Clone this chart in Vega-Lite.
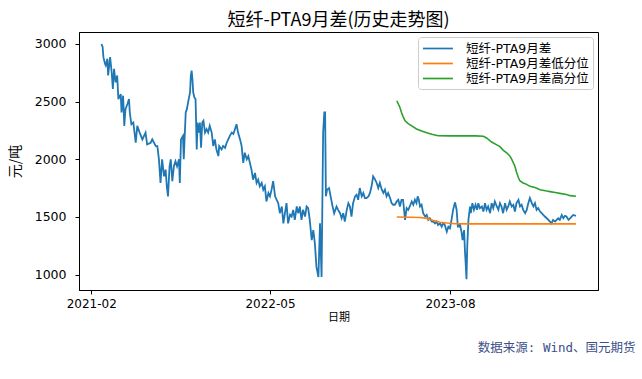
{
  "$schema": "https://vega.github.io/schema/vega-lite/v6.json",
  "width": 519,
  "height": 258,
  "autosize": {"type": "none"},
  "padding": {"left": 79, "top": 32, "right": 44, "bottom": 89},
  "background": "white",
  "title": {"text": "短纤-PTA9月差(历史走势图)", "font": "Noto Sans CJK SC", "fontSize": 18, "fontWeight": "normal", "color": "#000000", "anchor": "middle", "offset": 2},
  "config": {
    "view": {"stroke": "#000000", "strokeWidth": 1},
    "axis": {"grid": false, "domainColor": "#000000", "tickColor": "#000000", "labelColor": "#000000", "titleColor": "#000000"}
  },
  "datasets": {
    "blue": [
      {"date": "2021-02-27", "value": 3000}, {"date": "2021-03-02", "value": 2975}, {"date": "2021-03-04", "value": 2886}, {"date": "2021-03-08", "value": 2830}, {"date": "2021-03-10", "value": 2814}, {"date": "2021-03-14", "value": 2872}, {"date": "2021-03-16", "value": 2727}, {"date": "2021-03-21", "value": 2886}, {"date": "2021-03-25", "value": 2755}, {"date": "2021-03-28", "value": 2610}, {"date": "2021-03-31", "value": 2785}, {"date": "2021-04-04", "value": 2668}, {"date": "2021-04-08", "value": 2727}, {"date": "2021-04-11", "value": 2522}, {"date": "2021-04-17", "value": 2566}, {"date": "2021-04-19", "value": 2406}, {"date": "2021-04-23", "value": 2552}, {"date": "2021-04-26", "value": 2290}, {"date": "2021-04-29", "value": 2435}, {"date": "2021-05-04", "value": 2480}, {"date": "2021-05-08", "value": 2522}, {"date": "2021-05-10", "value": 2406}, {"date": "2021-05-14", "value": 2304}, {"date": "2021-05-19", "value": 2319}, {"date": "2021-05-25", "value": 2144}, {"date": "2021-05-29", "value": 2290}, {"date": "2021-06-04", "value": 2232}, {"date": "2021-06-11", "value": 2173}, {"date": "2021-06-19", "value": 2232}, {"date": "2021-06-23", "value": 2130}, {"date": "2021-07-02", "value": 2144}, {"date": "2021-07-06", "value": 2173}, {"date": "2021-07-15", "value": 2115}, {"date": "2021-07-19", "value": 2115}, {"date": "2021-07-23", "value": 2000}, {"date": "2021-07-27", "value": 1795}, {"date": "2021-07-31", "value": 2000}, {"date": "2021-08-05", "value": 1853}, {"date": "2021-08-09", "value": 1911}, {"date": "2021-08-12", "value": 1766}, {"date": "2021-08-15", "value": 1679}, {"date": "2021-08-19", "value": 1940}, {"date": "2021-08-22", "value": 2000}, {"date": "2021-08-26", "value": 1810}, {"date": "2021-08-30", "value": 1940}, {"date": "2021-09-03", "value": 1984}, {"date": "2021-09-07", "value": 1940}, {"date": "2021-09-12", "value": 2000}, {"date": "2021-09-14", "value": 1795}, {"date": "2021-09-17", "value": 2173}, {"date": "2021-09-22", "value": 2203}, {"date": "2021-09-24", "value": 2000}, {"date": "2021-09-29", "value": 2406}, {"date": "2021-10-02", "value": 2435}, {"date": "2021-10-05", "value": 2493}, {"date": "2021-10-10", "value": 2581}, {"date": "2021-10-12", "value": 2727}, {"date": "2021-10-14", "value": 2770}, {"date": "2021-10-16", "value": 2697}, {"date": "2021-10-18", "value": 2581}, {"date": "2021-10-21", "value": 2537}, {"date": "2021-10-24", "value": 2522}, {"date": "2021-10-27", "value": 2085}, {"date": "2021-10-29", "value": 2319}, {"date": "2021-11-02", "value": 2232}, {"date": "2021-11-04", "value": 2319}, {"date": "2021-11-07", "value": 2100}, {"date": "2021-11-10", "value": 2319}, {"date": "2021-11-13", "value": 2334}, {"date": "2021-11-17", "value": 2232}, {"date": "2021-11-21", "value": 2261}, {"date": "2021-11-25", "value": 2232}, {"date": "2021-11-29", "value": 2290}, {"date": "2021-12-04", "value": 2232}, {"date": "2021-12-08", "value": 2115}, {"date": "2021-12-12", "value": 2173}, {"date": "2021-12-16", "value": 2085}, {"date": "2021-12-21", "value": 2028}, {"date": "2021-12-23", "value": 2115}, {"date": "2021-12-29", "value": 2085}, {"date": "2022-01-02", "value": 2115}, {"date": "2022-01-07", "value": 2100}, {"date": "2022-01-11", "value": 2144}, {"date": "2022-01-15", "value": 2173}, {"date": "2022-01-19", "value": 2203}, {"date": "2022-01-24", "value": 2232}, {"date": "2022-01-28", "value": 2220}, {"date": "2022-02-01", "value": 2261}, {"date": "2022-02-05", "value": 2304}, {"date": "2022-02-09", "value": 2232}, {"date": "2022-02-14", "value": 2173}, {"date": "2022-02-18", "value": 2115}, {"date": "2022-02-22", "value": 1969}, {"date": "2022-02-26", "value": 2057}, {"date": "2022-03-03", "value": 2000}, {"date": "2022-03-07", "value": 2028}, {"date": "2022-03-11", "value": 1969}, {"date": "2022-03-15", "value": 1911}, {"date": "2022-03-19", "value": 1824}, {"date": "2022-03-24", "value": 1882}, {"date": "2022-03-28", "value": 1795}, {"date": "2022-04-01", "value": 1824}, {"date": "2022-04-05", "value": 1766}, {"date": "2022-04-10", "value": 1795}, {"date": "2022-04-14", "value": 1737}, {"date": "2022-04-18", "value": 1766}, {"date": "2022-04-22", "value": 1635}, {"date": "2022-04-27", "value": 1708}, {"date": "2022-05-01", "value": 1679}, {"date": "2022-05-05", "value": 1737}, {"date": "2022-05-09", "value": 1810}, {"date": "2022-05-14", "value": 1679}, {"date": "2022-05-18", "value": 1649}, {"date": "2022-05-22", "value": 1620}, {"date": "2022-05-26", "value": 1533}, {"date": "2022-05-31", "value": 1591}, {"date": "2022-06-04", "value": 1445}, {"date": "2022-06-08", "value": 1533}, {"date": "2022-06-12", "value": 1620}, {"date": "2022-06-16", "value": 1445}, {"date": "2022-06-21", "value": 1520}, {"date": "2022-06-25", "value": 1504}, {"date": "2022-06-29", "value": 1562}, {"date": "2022-07-03", "value": 1475}, {"date": "2022-07-08", "value": 1591}, {"date": "2022-07-12", "value": 1533}, {"date": "2022-07-16", "value": 1591}, {"date": "2022-07-20", "value": 1475}, {"date": "2022-07-24", "value": 1562}, {"date": "2022-07-29", "value": 1504}, {"date": "2022-08-02", "value": 1591}, {"date": "2022-08-06", "value": 1577}, {"date": "2022-08-10", "value": 1475}, {"date": "2022-08-15", "value": 1300}, {"date": "2022-08-19", "value": 1387}, {"date": "2022-08-23", "value": 1271}, {"date": "2022-08-27", "value": 1067}, {"date": "2022-09-01", "value": 980}, {"date": "2022-09-05", "value": 1445}, {"date": "2022-09-09", "value": 980}, {"date": "2022-09-13", "value": 2232}, {"date": "2022-09-16", "value": 2406}, {"date": "2022-09-18", "value": 2406}, {"date": "2022-09-20", "value": 1679}, {"date": "2022-09-23", "value": 1737}, {"date": "2022-09-28", "value": 1751}, {"date": "2022-10-02", "value": 1679}, {"date": "2022-10-07", "value": 1591}, {"date": "2022-10-11", "value": 1533}, {"date": "2022-10-17", "value": 1591}, {"date": "2022-10-21", "value": 1562}, {"date": "2022-10-26", "value": 1533}, {"date": "2022-10-30", "value": 1489}, {"date": "2022-11-03", "value": 1533}, {"date": "2022-11-07", "value": 1460}, {"date": "2022-11-12", "value": 1562}, {"date": "2022-11-16", "value": 1620}, {"date": "2022-11-20", "value": 1591}, {"date": "2022-11-24", "value": 1504}, {"date": "2022-11-28", "value": 1620}, {"date": "2022-12-03", "value": 1679}, {"date": "2022-12-07", "value": 1693}, {"date": "2022-12-11", "value": 1649}, {"date": "2022-12-15", "value": 1751}, {"date": "2022-12-20", "value": 1679}, {"date": "2022-12-24", "value": 1708}, {"date": "2022-12-28", "value": 1664}, {"date": "2023-01-01", "value": 1664}, {"date": "2023-01-06", "value": 1679}, {"date": "2023-01-10", "value": 1708}, {"date": "2023-01-14", "value": 1766}, {"date": "2023-01-18", "value": 1853}, {"date": "2023-01-23", "value": 1824}, {"date": "2023-01-27", "value": 1795}, {"date": "2023-01-31", "value": 1751}, {"date": "2023-02-04", "value": 1795}, {"date": "2023-02-09", "value": 1737}, {"date": "2023-02-13", "value": 1708}, {"date": "2023-02-17", "value": 1737}, {"date": "2023-02-21", "value": 1679}, {"date": "2023-02-25", "value": 1708}, {"date": "2023-03-02", "value": 1664}, {"date": "2023-03-06", "value": 1620}, {"date": "2023-03-10", "value": 1606}, {"date": "2023-03-14", "value": 1606}, {"date": "2023-03-19", "value": 1635}, {"date": "2023-03-23", "value": 1649}, {"date": "2023-03-27", "value": 1591}, {"date": "2023-03-31", "value": 1649}, {"date": "2023-04-04", "value": 1649}, {"date": "2023-04-09", "value": 1475}, {"date": "2023-04-13", "value": 1577}, {"date": "2023-04-17", "value": 1562}, {"date": "2023-04-21", "value": 1591}, {"date": "2023-04-26", "value": 1635}, {"date": "2023-04-30", "value": 1606}, {"date": "2023-05-04", "value": 1649}, {"date": "2023-05-08", "value": 1620}, {"date": "2023-05-11", "value": 1679}, {"date": "2023-05-14", "value": 1649}, {"date": "2023-05-17", "value": 1591}, {"date": "2023-05-21", "value": 1606}, {"date": "2023-05-25", "value": 1533}, {"date": "2023-05-30", "value": 1504}, {"date": "2023-06-03", "value": 1518}, {"date": "2023-06-07", "value": 1475}, {"date": "2023-06-11", "value": 1489}, {"date": "2023-06-16", "value": 1460}, {"date": "2023-06-20", "value": 1460}, {"date": "2023-06-24", "value": 1445}, {"date": "2023-06-28", "value": 1460}, {"date": "2023-07-02", "value": 1431}, {"date": "2023-07-07", "value": 1445}, {"date": "2023-07-11", "value": 1416}, {"date": "2023-07-15", "value": 1445}, {"date": "2023-07-19", "value": 1431}, {"date": "2023-07-24", "value": 1373}, {"date": "2023-07-28", "value": 1416}, {"date": "2023-08-01", "value": 1402}, {"date": "2023-08-05", "value": 1475}, {"date": "2023-08-09", "value": 1562}, {"date": "2023-08-14", "value": 1627}, {"date": "2023-08-18", "value": 1562}, {"date": "2023-08-21", "value": 1416}, {"date": "2023-08-24", "value": 1416}, {"date": "2023-08-26", "value": 1445}, {"date": "2023-08-31", "value": 1358}, {"date": "2023-09-02", "value": 1300}, {"date": "2023-09-06", "value": 1387}, {"date": "2023-09-08", "value": 1213}, {"date": "2023-09-10", "value": 1096}, {"date": "2023-09-12", "value": 960}, {"date": "2023-09-14", "value": 1250}, {"date": "2023-09-17", "value": 1475}, {"date": "2023-09-21", "value": 1591}, {"date": "2023-09-23", "value": 1533}, {"date": "2023-09-27", "value": 1620}, {"date": "2023-10-01", "value": 1562}, {"date": "2023-10-05", "value": 1606}, {"date": "2023-10-09", "value": 1562}, {"date": "2023-10-12", "value": 1620}, {"date": "2023-10-16", "value": 1577}, {"date": "2023-10-21", "value": 1591}, {"date": "2023-10-25", "value": 1547}, {"date": "2023-10-29", "value": 1620}, {"date": "2023-11-02", "value": 1562}, {"date": "2023-11-06", "value": 1591}, {"date": "2023-11-11", "value": 1533}, {"date": "2023-11-15", "value": 1620}, {"date": "2023-11-19", "value": 1577}, {"date": "2023-11-23", "value": 1635}, {"date": "2023-11-28", "value": 1591}, {"date": "2023-12-02", "value": 1562}, {"date": "2023-12-06", "value": 1620}, {"date": "2023-12-10", "value": 1591}, {"date": "2023-12-14", "value": 1533}, {"date": "2023-12-19", "value": 1620}, {"date": "2023-12-23", "value": 1562}, {"date": "2023-12-27", "value": 1591}, {"date": "2023-12-31", "value": 1635}, {"date": "2024-01-05", "value": 1591}, {"date": "2024-01-09", "value": 1606}, {"date": "2024-01-13", "value": 1547}, {"date": "2024-01-17", "value": 1620}, {"date": "2024-01-22", "value": 1649}, {"date": "2024-01-26", "value": 1591}, {"date": "2024-01-30", "value": 1606}, {"date": "2024-02-03", "value": 1562}, {"date": "2024-02-08", "value": 1533}, {"date": "2024-02-12", "value": 1562}, {"date": "2024-02-16", "value": 1620}, {"date": "2024-02-20", "value": 1664}, {"date": "2024-02-25", "value": 1620}, {"date": "2024-02-29", "value": 1591}, {"date": "2024-03-04", "value": 1620}, {"date": "2024-03-08", "value": 1562}, {"date": "2024-03-12", "value": 1577}, {"date": "2024-03-17", "value": 1547}, {"date": "2024-03-21", "value": 1533}, {"date": "2024-03-25", "value": 1518}, {"date": "2024-03-29", "value": 1504}, {"date": "2024-04-03", "value": 1489}, {"date": "2024-04-07", "value": 1475}, {"date": "2024-04-11", "value": 1460}, {"date": "2024-04-15", "value": 1445}, {"date": "2024-04-19", "value": 1475}, {"date": "2024-04-24", "value": 1460}, {"date": "2024-04-28", "value": 1475}, {"date": "2024-05-02", "value": 1489}, {"date": "2024-05-06", "value": 1475}, {"date": "2024-05-11", "value": 1518}, {"date": "2024-05-15", "value": 1489}, {"date": "2024-05-19", "value": 1510}, {"date": "2024-05-23", "value": 1504}, {"date": "2024-05-28", "value": 1475}, {"date": "2024-06-01", "value": 1489}, {"date": "2024-06-05", "value": 1504}, {"date": "2024-06-09", "value": 1518}, {"date": "2024-06-16", "value": 1510}
    ],
    "low": [
      {"date": "2023-03-19", "value": 1500}, {"date": "2023-04-21", "value": 1498}, {"date": "2023-05-17", "value": 1495}, {"date": "2023-06-03", "value": 1488}, {"date": "2023-06-20", "value": 1470}, {"date": "2023-07-07", "value": 1455}, {"date": "2023-07-24", "value": 1448}, {"date": "2023-08-14", "value": 1442}, {"date": "2023-09-12", "value": 1440}, {"date": "2024-06-16", "value": 1440}
    ],
    "high": [
      {"date": "2023-03-19", "value": 2508}, {"date": "2023-03-23", "value": 2480}, {"date": "2023-03-27", "value": 2450}, {"date": "2023-03-31", "value": 2406}, {"date": "2023-04-04", "value": 2370}, {"date": "2023-04-09", "value": 2334}, {"date": "2023-04-17", "value": 2310}, {"date": "2023-04-26", "value": 2290}, {"date": "2023-05-08", "value": 2263}, {"date": "2023-05-21", "value": 2246}, {"date": "2023-06-03", "value": 2230}, {"date": "2023-06-16", "value": 2217}, {"date": "2023-07-02", "value": 2205}, {"date": "2023-08-01", "value": 2203}, {"date": "2023-09-08", "value": 2203}, {"date": "2023-10-05", "value": 2203}, {"date": "2023-10-25", "value": 2200}, {"date": "2023-11-02", "value": 2185}, {"date": "2023-11-15", "value": 2150}, {"date": "2023-11-28", "value": 2125}, {"date": "2023-12-06", "value": 2110}, {"date": "2023-12-14", "value": 2080}, {"date": "2023-12-23", "value": 2057}, {"date": "2023-12-31", "value": 2030}, {"date": "2024-01-05", "value": 2000}, {"date": "2024-01-13", "value": 1940}, {"date": "2024-01-17", "value": 1890}, {"date": "2024-01-22", "value": 1840}, {"date": "2024-01-26", "value": 1812}, {"date": "2024-02-03", "value": 1795}, {"date": "2024-02-12", "value": 1783}, {"date": "2024-02-20", "value": 1766}, {"date": "2024-03-04", "value": 1755}, {"date": "2024-03-17", "value": 1737}, {"date": "2024-04-03", "value": 1725}, {"date": "2024-04-11", "value": 1720}, {"date": "2024-04-28", "value": 1710}, {"date": "2024-05-06", "value": 1705}, {"date": "2024-05-23", "value": 1695}, {"date": "2024-06-01", "value": 1685}, {"date": "2024-06-16", "value": 1680}
    ],
    "source": [
      {"date": "2024-06-16"}
    ]
  },
  "resolve": {"axis": {"x": "independent"}},
  "layer": [
    {
      "data": {"name": "blue"},
      "mark": {"type": "line", "strokeWidth": 1.8},
      "encoding": {
        "x": {
          "field": "date", "type": "temporal",
          "scale": {"domain": [{"year": 2021, "month": 1, "date": 1}, {"year": 2024, "month": 8, "date": 11}]},
          "axis": {
            "values": [{"year": 2021, "month": 2, "date": 1}, {"year": 2022, "month": 5, "date": 1}, {"year": 2023, "month": 8, "date": 1}],
            "format": "%Y-%m", "labelFlush": false, "labelOverlap": false,
            "labelFont": "DejaVu Sans", "labelFontSize": 12, "labelPadding": 4, "tickSize": 4,
            "title": "日期", "titleFont": "Noto Sans CJK SC", "titleFontSize": 11, "titleFontWeight": "normal", "titlePadding": 2
          }
        },
        "y": {
          "field": "value", "type": "quantitative",
          "scale": {"domain": [867, 3104], "nice": false, "zero": false},
          "axis": {
            "values": [1000, 1250, 1500, 1750, 2000, 2250, 2500, 2750, 3000], "format": "d",
            "labelFont": "DejaVu Sans", "labelFontSize": 12.5, "labelPadding": 9, "tickSize": 4,
            "title": "元/吨", "titleFont": "Noto Sans CJK SC", "titleFontSize": 14, "titleFontWeight": "normal",
            "titleX": -57, "titleY": 129, "titleAngle": 270, "titleAlign": "center", "titleBaseline": "bottom"
          }
        },
        "color": {
          "datum": "短纤-PTA9月差", "type": "nominal",
          "scale": {"domain": ["短纤-PTA9月差", "短纤-PTA9月差低分位", "短纤-PTA9月差高分位"], "range": ["#1f77b4", "#ff7f0e", "#2ca02c"]},
          "legend": {
            "title": null, "orient": "top-right", "offset": 5,
            "fillColor": "#ffffff", "strokeColor": "#cccccc", "cornerRadius": 3, "padding": 4,
            "symbolType": "M-1,0H3.6", "symbolSize": 169, "symbolStrokeWidth": 1.7,
            "labelFont": "DejaVu Sans, Noto Sans CJK SC", "labelFontSize": 12.5, "labelColor": "#000000", "labelOffset": 29, "rowPadding": 1
          }
        }
      }
    },
    {
      "data": {"name": "low"},
      "mark": {"type": "line", "strokeWidth": 1.6},
      "encoding": {
        "x": {"field": "date", "type": "temporal", "axis": null},
        "y": {"field": "value", "type": "quantitative"},
        "color": {"datum": "短纤-PTA9月差低分位", "type": "nominal"}
      }
    },
    {
      "data": {"name": "high"},
      "mark": {"type": "line", "strokeWidth": 1.6},
      "encoding": {
        "x": {"field": "date", "type": "temporal", "axis": null},
        "y": {"field": "value", "type": "quantitative"},
        "color": {"datum": "短纤-PTA9月差高分位", "type": "nominal"}
      }
    },
    {
      "data": {"name": "source"},
      "mark": {"type": "rule", "opacity": 0},
      "encoding": {
        "x": {
          "field": "date", "type": "temporal",
          "axis": {
            "orient": "bottom", "domain": false, "ticks": false, "labels": false, "grid": false,
            "title": "数据来源: Wind、国元期货", "titleFont": "DejaVu Sans Mono, Noto Sans CJK SC", "titleFontSize": 12.5, "titleFontWeight": "normal",
            "titleColor": "#3c4f8a", "titleAnchor": "end", "titleAlign": "right", "titleBaseline": "middle", "titleX": 556, "titleY": 57
          }
        }
      }
    }
  ]
}
